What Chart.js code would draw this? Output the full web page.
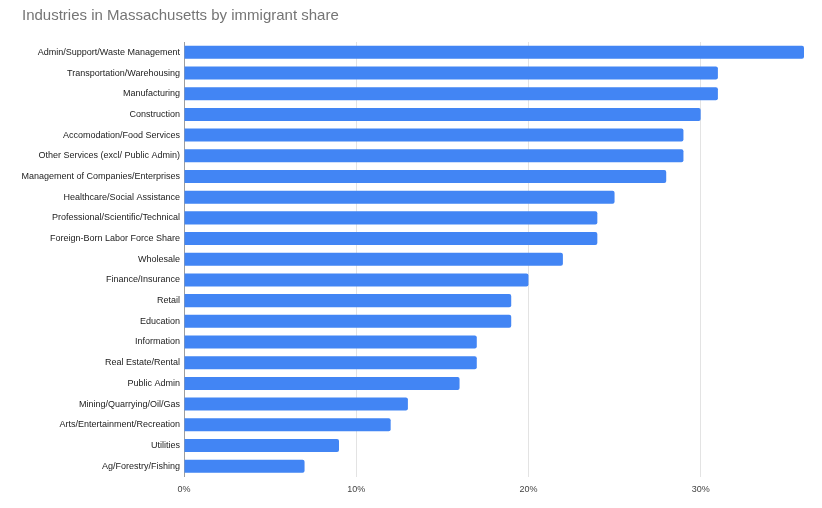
<!DOCTYPE html>
<html lang="en">
<head>
  <meta charset="UTF-8">
  <title>Industries in Massachusetts by immigrant share</title>
  <script src="https://cdn.jsdelivr.net/npm/chart.js"></script>
  <style>
    body {
      margin: 0;
      background: #fff;
      font-family: "Liberation Sans", Arial, sans-serif;
    }
    #wrap {
      position: relative;
      width: 822px;
      height: 508px;
    }
    #title {
      position: absolute;
      left: 22px;
      top: 6px;
      font-size: 15px;
      color: #757575;
      white-space: nowrap;
    }
  </style>
</head>
<body>
  <div id="wrap">
    <div id="title">Industries in Massachusetts by immigrant share</div>
    <canvas id="industryChart"></canvas>
  </div>

  <script>
    // Industry categories, top to bottom
    const industries = [
      'Admin/Support/Waste Management',
      'Transportation/Warehousing',
      'Manufacturing',
      'Construction',
      'Accomodation/Food Services',
      'Other Services (excl/ Public Admin)',
      'Management of Companies/Enterprises',
      'Healthcare/Social Assistance',
      'Professional/Scientific/Technical',
      'Foreign-Born Labor Force Share',
      'Wholesale',
      'Finance/Insurance',
      'Retail',
      'Education',
      'Information',
      'Real Estate/Rental',
      'Public Admin',
      'Mining/Quarrying/Oil/Gas',
      'Arts/Entertainment/Recreation',
      'Utilities',
      'Ag/Forestry/Fishing'
    ];

    // Immigrant share, percent
    const immigrantShare = [36, 31, 31, 30, 29, 29, 28, 25, 24, 24, 22, 20, 19, 19, 17, 17, 16, 13, 12, 9, 7];

    // Axis ticks shown on the x axis
    const xTicks = [0, 10, 20, 30];

    const labelFont = { family: '"Liberation Sans", Arial, sans-serif', size: 9 };

    const ctx = document.getElementById('industryChart').getContext('2d');
    new Chart(ctx, {
      type: 'bar',
      data: {
        labels: industries,
        datasets: [{
          label: 'Immigrant share',
          data: immigrantShare,
          backgroundColor: '#4285f4',
          borderRadius: 2,
          borderSkipped: 'start',
          barPercentage: 0.63,
          categoryPercentage: 1
        }]
      },
      options: {
        indexAxis: 'y',
        responsive: true,
        maintainAspectRatio: false,
        animation: false,
        layout: {
          padding: { left: 0, right: 18, top: 42, bottom: 0 }
        },
        plugins: {
          legend: { display: false },
          tooltip: { enabled: false }
        },
        scales: {
          x: {
            min: 0,
            max: 36,
            afterBuildTicks: function(scale) {
              scale.ticks = xTicks.map(v => ({ value: v }));
            },
            afterFit: function(scale) {
              scale.height = 31.5;
            },
            grid: {
              color: ctx => ctx.tick && ctx.tick.value === 0 ? 'rgba(0,0,0,0)' : '#e3e3e3',
              drawTicks: false
            },
            border: { display: false },
            ticks: {
              padding: 8,
              color: '#444',
              font: labelFont,
              callback: v => v + '%'
            }
          },
          y: {
            afterFit: function(scale) {
              scale.width = 184;
            },
            grid: { display: false, drawTicks: false },
            border: { display: true, color: '#9e9e9e', width: 1 },
            ticks: {
              padding: 4,
              color: '#222',
              autoSkip: false,
              font: labelFont
            }
          }
        }
      }
    });
  </script>
</body>
</html>
